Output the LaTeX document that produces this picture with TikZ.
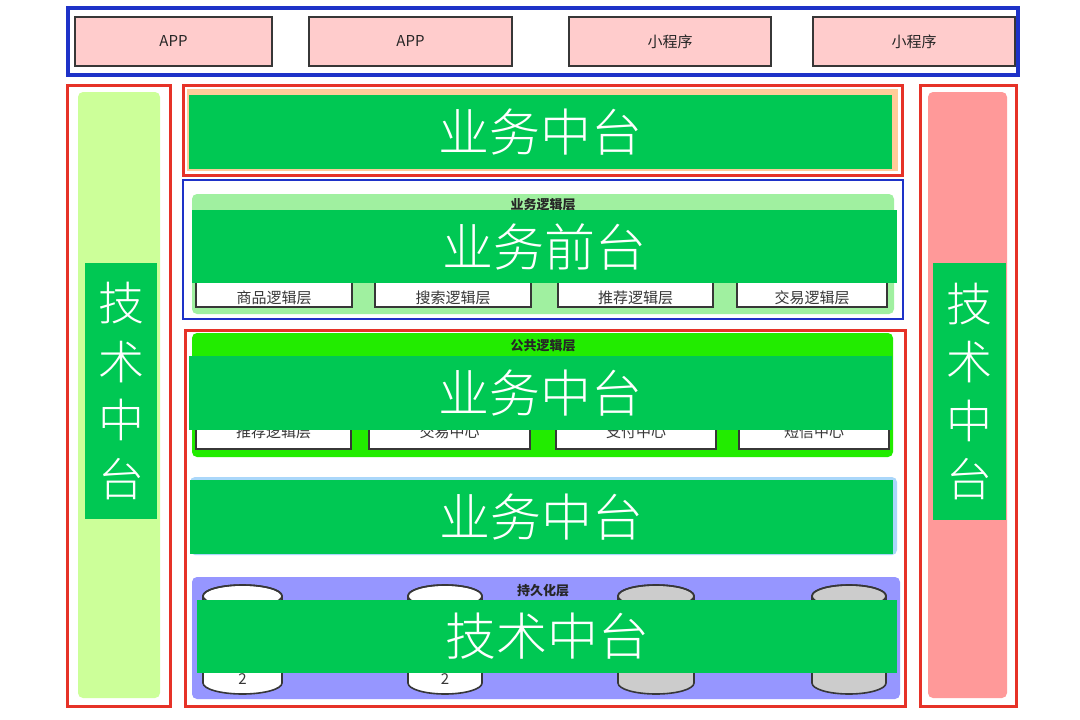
\documentclass[tikz,border=0pt]{standalone}
\usepackage{fontspec}
\setmainfont{Noto Sans CJK SC}
\IfFontExistsTF{Noto Sans CJK SC Light}{\newfontfamily\bannerfont{Noto Sans CJK SC Light}}{\newfontfamily\bannerfont{Noto Sans CJK SC}}
\definecolor{frameblue}{RGB}{30,50,200}
\definecolor{framered}{RGB}{230,50,40}
\definecolor{apppink}{RGB}{255,204,204}
\definecolor{lgreen}{RGB}{204,255,153}
\definecolor{rpink}{RGB}{255,153,153}
\definecolor{peach}{RGB}{255,204,153}
\definecolor{logicgreen}{RGB}{160,240,160}
\definecolor{brightgreen}{RGB}{34,236,0}
\definecolor{lblue}{RGB}{170,215,250}
\definecolor{purple}{RGB}{150,150,255}
\definecolor{banner}{RGB}{0,200,83}
\definecolor{darkline}{RGB}{55,55,55}
\definecolor{cylgray}{RGB}{204,204,204}
\begin{document}
\begin{tikzpicture}[x=1pt,y=-1pt,
  box/.style={rectangle,inner sep=0pt,outer sep=0pt},
  frameB/.style={box,draw=frameblue,line width=3.2pt},
  frameR/.style={box,draw=framered,line width=3pt},
  appbox/.style={box,draw=darkline,line width=2pt,fill=apppink,text=black!85,font=\fontsize{15}{18}\selectfont},
  panel/.style={box,rounded corners=5pt},
  bannerbox/.style={box,fill=banner,text=white,font=\bannerfont\fontsize{51}{60}\selectfont},
  vbanner/.style={box,fill=banner,text=white,align=center,font=\bannerfont\fontsize{46}{58.5}\selectfont},
  title/.style={inner sep=0pt,text=black!85,font=\bfseries\fontsize{13}{15}\selectfont},
  wbox/.style={box,draw=darkline,line width=1.6pt,fill=white},
  wlabel/.style={inner sep=0pt,text=darkline,font=\fontsize{15}{18}\selectfont},
  cyl/.style={draw=darkline,line width=1.6pt}
]
\useasboundingbox (0,0) rectangle (1080,720);
\fill[white] (0,0) rectangle (1080,720);

% top client layer
\node[frameB,minimum width=950pt,minimum height=67pt] (top) at (543,41.5) {};
\node[appbox,minimum width=197pt,minimum height=49pt] (app1) at (173.5,41.5) {APP};
\node[appbox,minimum width=203pt,minimum height=49pt] (app2) at (410.5,41.5) {APP};
\node[appbox,minimum width=202pt,minimum height=49pt] (mp1) at (670,41.5) {小程序};
\node[appbox,minimum width=202pt,minimum height=49pt] (mp2) at (914,41.5) {小程序};

% left column
\node[frameR,minimum width=103pt,minimum height=621pt] (lframe) at (118.5,395.5) {};
\node[panel,fill=lgreen,minimum width=82pt,minimum height=606pt] (lpanel) at (119,395) {};
\node[vbanner,minimum width=72pt,minimum height=256pt] (ltext) at (121,391) {技\\术\\中\\台};

% right column
\node[frameR,minimum width=96pt,minimum height=621pt] (rframe) at (968,395.5) {};
\node[panel,fill=rpink,minimum width=79pt,minimum height=606pt] (rpanel) at (967.5,395) {};
\node[vbanner,minimum width=73pt,minimum height=257pt] (rtext) at (969.5,391.5) {技\\术\\中\\台};

% business middle (top)
\node[frameR,minimum width=719pt,minimum height=90pt] (f1) at (542.5,130) {};
\node[box,fill=peach,minimum width=711pt,minimum height=82pt] (p1) at (542.5,130) {};
\draw[darkline,line width=2pt] (891,125) -- (891,166);
\node[bannerbox,minimum width=703pt,minimum height=74pt] (b1) at (540.5,132) {业务中台};

% business front
\node[frameB,line width=2.8pt,minimum width=720pt,minimum height=139pt] (f2) at (543,249.5) {};
\node[panel,fill=logicgreen,minimum width=702pt,minimum height=120pt] (p2) at (543,254) {};
\node[title] (t2) at (543,205) {业务逻辑层};
\node[wbox,minimum width=156pt,minimum height=40pt] (l1) at (274,287) {};
\node[wbox,minimum width=156pt,minimum height=40pt] (l2) at (453,287) {};
\node[wbox,minimum width=155pt,minimum height=40pt] (l3) at (635.5,287) {};
\node[wbox,minimum width=150pt,minimum height=40pt] (l4) at (812,287) {};
\node[wlabel] (l1t) at (274,298) {商品逻辑层};
\node[wlabel] (l2t) at (453,298) {搜索逻辑层};
\node[wlabel] (l3t) at (635.5,298) {推荐逻辑层};
\node[wlabel] (l4t) at (812,298) {交易逻辑层};
\node[bannerbox,minimum width=705pt,minimum height=73pt] (b2) at (544.5,246.5) {业务前台};

% lower red frame
\node[frameR,minimum width=720pt,minimum height=376pt] (f3) at (545,518) {};

% public logic layer
\node[panel,fill=brightgreen,minimum width=701pt,minimum height=124pt] (p3) at (542.5,395) {};
\node[title] (t3) at (543,346) {公共逻辑层};
\node[wbox,minimum width=155pt,minimum height=34pt] (c1) at (273.5,432) {};
\node[wbox,minimum width=161pt,minimum height=34pt] (c2) at (449.5,432) {};
\node[wbox,minimum width=160pt,minimum height=34pt] (c3) at (636,432) {};
\node[wbox,minimum width=150pt,minimum height=34pt] (c4) at (814,432) {};
\node[wlabel] (c1t) at (273.5,432) {推荐逻辑层};
\node[wlabel] (c2t) at (449.5,432) {交易中心};
\node[wlabel] (c3t) at (636,432) {支付中心};
\node[wlabel] (c4t) at (814,432) {短信中心};
\node[bannerbox,minimum width=703pt,minimum height=74pt] (b3) at (540.5,393) {业务中台};

% service layer
\node[panel,fill=lblue,minimum width=707pt,minimum height=78pt] (p4) at (543.5,516) {};
\draw[darkline,line width=2pt] (892,510) -- (892,552);
\node[bannerbox,minimum width=703pt,minimum height=74pt] (b4) at (541.5,517) {业务中台};

% persistence layer
\node[panel,fill=purple,minimum width=708pt,minimum height=122pt] (p5) at (546,638) {};
\node[title] (t5) at (543,591) {持久化层};
% cylinders
\foreach \cx/\w/\col/\nm in {242.5/79/white/d1, 445/74/white/d2, 656/76/cylgray/d3, 849/74/cylgray/d4}{
  \pgfmathsetmacro{\rx}{\w/2}
  \filldraw[cyl,fill=\col] (\cx-\rx,596) -- (\cx-\rx,683)
     arc[start angle=180,end angle=0,x radius=\rx,y radius=11]
     -- (\cx+\rx,596)
     arc[start angle=0,end angle=-180,x radius=\rx,y radius=11] -- cycle;
  \draw[cyl] (\cx,596) ellipse[x radius=\rx,y radius=11];
  \coordinate (\nm) at (\cx,640);
}
\node[wlabel] (n1) at (242.5,679) {2};
\node[wlabel] (n2) at (445,679) {2};
\node[bannerbox,minimum width=700pt,minimum height=73pt] (b5) at (547,636.5) {技术中台};
\end{tikzpicture}
\end{document}
